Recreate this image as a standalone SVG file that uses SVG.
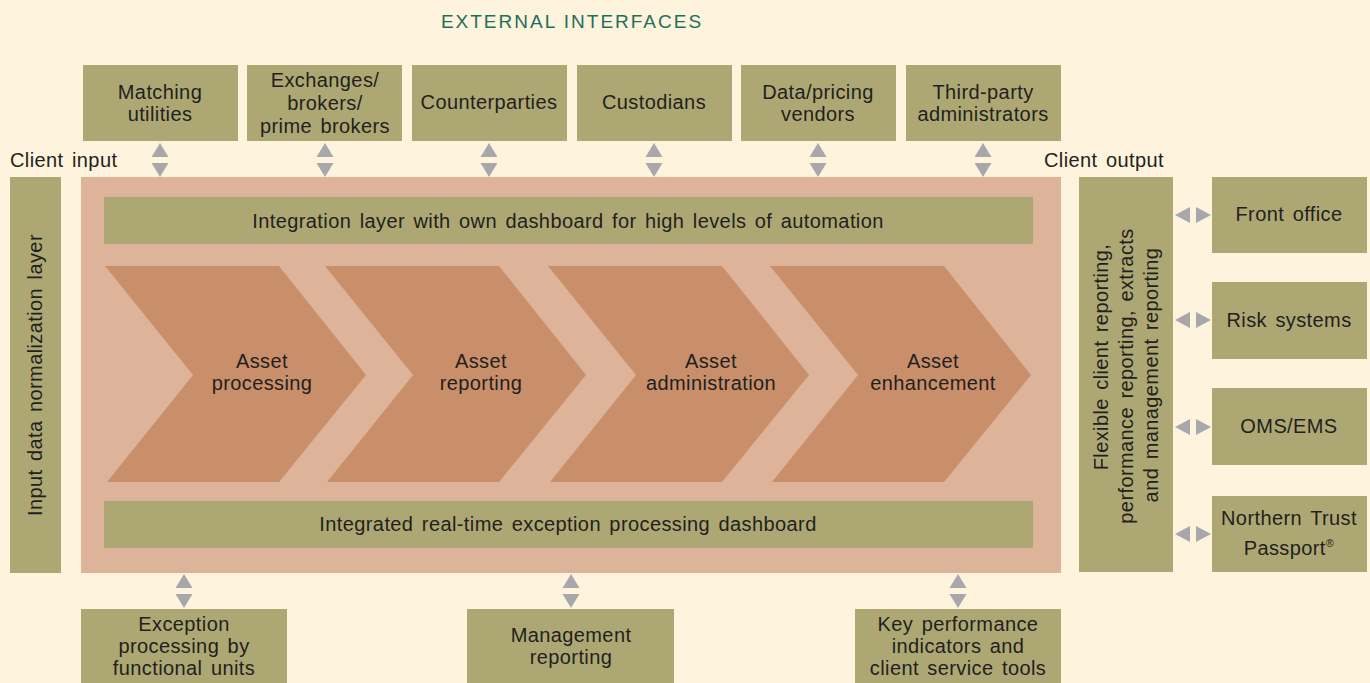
<svg xmlns="http://www.w3.org/2000/svg" width="1370" height="683" viewBox="0 0 1370 683">
<defs>
<style>
.box{fill:#ADA873}
.t{font-family:"Liberation Sans",Arial,sans-serif;font-size:20px;fill:#231F20;text-anchor:middle;letter-spacing:0.4px;word-spacing:2.5px}
.tl{font-family:"Liberation Sans",Arial,sans-serif;font-size:20px;fill:#231F20;letter-spacing:0.4px;word-spacing:2.5px}
.arr{fill:#A8A8AC}
.chev{fill:#C98F6A}
</style>
<g id="arrV"><polygon points="-8.5,14 0,0 8.5,14" class="arr"/><polygon points="-8.5,20 8.5,20 0,34" class="arr"/></g>
<g id="arrH"><polygon points="15,-8 15,8 0,0" class="arr"/><polygon points="21,-8 36,0 21,8" class="arr"/></g>
</defs>
<rect width="1370" height="683" fill="#FEF3DD"/>
<text x="572" y="28" font-family="'Liberation Sans',Arial,sans-serif" font-size="19" letter-spacing="2" fill="#1F6F5A" text-anchor="middle">EXTERNAL INTERFACES</text>
<text class="tl" x="10" y="167">Client input</text>
<text class="tl" x="1044" y="167">Client output</text>

<g id="core">
<rect x="81" y="177" width="980" height="396" fill="#DDB49A"/>
</g>
<g id="integration"><rect class="box" x="104" y="197" width="929" height="47"/><text class="t" x="568" y="228">Integration layer with own dashboard for high levels of automation</text></g>
<g id="exception-dashboard"><rect class="box" x="104" y="501" width="929" height="47"/><text class="t" x="568" y="531">Integrated real-time exception processing dashboard</text></g>

<g id="asset-processing"><polygon class="chev" points="105,266 279,266 366,375 279,482 107,482 193,375"/><text class="t" x="262" y="368">Asset</text><text class="t" x="262" y="390">processing</text></g>
<g id="asset-reporting"><polygon class="chev" points="325,266 499,266 586,375 499,482 327,482 413,375"/><text class="t" x="481" y="368">Asset</text><text class="t" x="481" y="390">reporting</text></g>
<g id="asset-administration"><polygon class="chev" points="548,266 722,266 809,375 722,482 550,482 636,375"/><text class="t" x="711" y="368">Asset</text><text class="t" x="711" y="390">administration</text></g>
<g id="asset-enhancement"><polygon class="chev" points="770,266 944,266 1031,375 944,482 772,482 858,375"/><text class="t" x="933" y="368">Asset</text><text class="t" x="933" y="390">enhancement</text></g>

<g id="input-normalization"><rect class="box" x="10" y="177" width="51" height="396"/><text class="t" transform="translate(42,375) rotate(-90)">Input data normalization layer</text></g>

<g id="client-output"><rect class="box" x="1079" y="177" width="94" height="395"/>
<text class="t" transform="translate(1108,357) rotate(-90)">Flexible client reporting,</text>
<text class="t" transform="translate(1133,376) rotate(-90)">performance reporting, extracts</text>
<text class="t" transform="translate(1158,375) rotate(-90)">and management reporting</text></g>

<g id="matching"><rect class="box" x="83" y="65" width="155" height="76"/><text class="t" x="160" y="99">Matching</text><text class="t" x="160" y="121">utilities</text></g>
<g id="exchanges"><rect class="box" x="247" y="65" width="155" height="76"/><text class="t" x="325" y="87">Exchanges/</text><text class="t" x="325" y="110">brokers/</text><text class="t" x="325" y="133">prime brokers</text></g>
<g id="counterparties"><rect class="box" x="412" y="65" width="155" height="76"/><text class="t" x="489" y="109">Counterparties</text></g>
<g id="custodians"><rect class="box" x="577" y="65" width="155" height="76"/><text class="t" x="654" y="109">Custodians</text></g>
<g id="data-pricing"><rect class="box" x="741" y="65" width="155" height="76"/><text class="t" x="818" y="99">Data/pricing</text><text class="t" x="818" y="121">vendors</text></g>
<g id="third-party"><rect class="box" x="906" y="65" width="155" height="76"/><text class="t" x="983" y="99">Third-party</text><text class="t" x="983" y="121">administrators</text></g>

<g id="front-office"><rect class="box" x="1212" y="177" width="155" height="76"/><text class="t" x="1289" y="221">Front office</text></g>
<g id="risk-systems"><rect class="box" x="1212" y="282" width="155" height="77"/><text class="t" x="1289" y="327">Risk systems</text></g>
<g id="oms-ems"><rect class="box" x="1212" y="388" width="155" height="77"/><text class="t" x="1289" y="433">OMS/EMS</text></g>
<g id="passport"><rect class="box" x="1212" y="496" width="155" height="76"/><text class="t" x="1289" y="525">Northern Trust</text><text class="t" x="1289" y="555">Passport<tspan font-size="11" dy="-8">®</tspan></text></g>

<g id="exception-units"><rect class="box" x="81" y="609" width="206" height="74"/><text class="t" x="184" y="631">Exception</text><text class="t" x="184" y="653">processing by</text><text class="t" x="184" y="675">functional units</text></g>
<g id="management-reporting"><rect class="box" x="467" y="609" width="207" height="74"/><text class="t" x="571" y="642">Management</text><text class="t" x="571" y="664">reporting</text></g>
<g id="kpi"><rect class="box" x="855" y="609" width="206" height="74"/><text class="t" x="958" y="631">Key performance</text><text class="t" x="958" y="653">indicators and</text><text class="t" x="958" y="675">client service tools</text></g>

<g id="connectors">
<use href="#arrV" x="160" y="143"/>
<use href="#arrV" x="325" y="143"/>
<use href="#arrV" x="489" y="143"/>
<use href="#arrV" x="654" y="143"/>
<use href="#arrV" x="818" y="143"/>
<use href="#arrV" x="983" y="143"/>
<use href="#arrV" x="184" y="574"/>
<use href="#arrV" x="571" y="574"/>
<use href="#arrV" x="958" y="574"/>
<use href="#arrH" x="1175" y="215"/>
<use href="#arrH" x="1175" y="320"/>
<use href="#arrH" x="1175" y="427"/>
<use href="#arrH" x="1175" y="534"/>
</g>
</svg>
